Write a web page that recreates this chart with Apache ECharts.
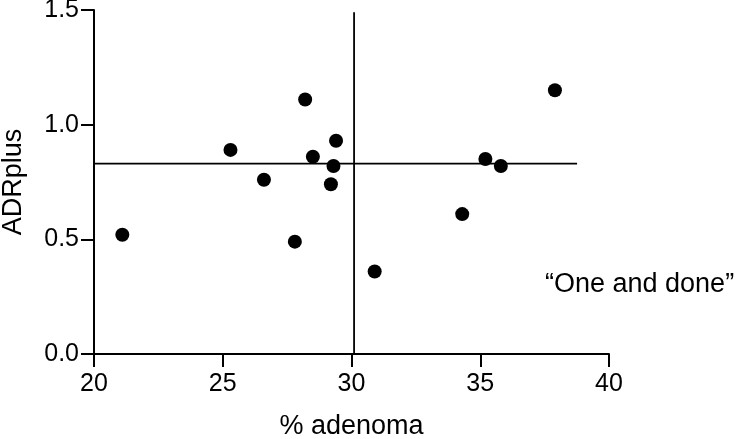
<!DOCTYPE html>
<html>
<head>
<meta charset="utf-8">
<script src="https://cdn.jsdelivr.net/npm/echarts@6/dist/echarts.min.js"></script>
<style>
  html, body { margin: 0; padding: 0; background: #fff; }
  #chart { width: 738px; height: 439px; }
</style>
</head>
<body>
<div id="chart"></div>
<script>
// 数据
const adenomaPct = [21.1, 25.3, 26.6, 27.8, 28.2, 28.5, 29.2, 29.3, 29.4, 30.9, 34.3, 35.2, 35.8, 37.9];
const adrPlus = [0.52, 0.89, 0.76, 0.49, 1.11, 0.86, 0.74, 0.82, 0.93, 0.36, 0.61, 0.85, 0.82, 1.15];
// 参考线
const hLineX = [20, 38.76];
const hLineY = [0.83, 0.83];
const vLineX = [30.1, 30.1];
const vLineY = [0, 1.49];
const xTicks = [20, 25, 30, 35, 40];
const yTicks = [0, 0.5, 1.0, 1.5];

const font = "'Liberation Sans', Arial, Helvetica, sans-serif";
const chart = echarts.init(document.getElementById('chart'));

const option = {
  backgroundColor: '#fff',
  animation: false,
  grid: { left: 94, right: 129, top: 10, bottom: 85, outerBoundsMode: 'none', containLabel: false },
  xAxis: {
    type: 'value',
    min: xTicks[0],
    max: xTicks[xTicks.length - 1],
    interval: 5,
    name: '% adenoma',
    nameLocation: 'middle',
    nameGap: 59,
    nameTextStyle: { color: '#000', fontSize: 27, fontFamily: font },
    axisLine: { show: true, lineStyle: { color: '#000', width: 2 } },
    axisTick: { show: true, length: 13, lineStyle: { color: '#000', width: 2 } },
    axisLabel: { color: '#000', fontSize: 25, fontFamily: font, margin: 18 },
    splitLine: { show: false }
  },
  yAxis: {
    type: 'value',
    min: yTicks[0],
    max: yTicks[yTicks.length - 1],
    interval: 0.5,
    name: 'ADRplus',
    nameLocation: 'middle',
    nameGap: 67,
    nameTextStyle: { color: '#000', fontSize: 27, fontFamily: font },
    axisLine: { show: true, lineStyle: { color: '#000', width: 2 } },
    axisTick: { show: true, length: 13, lineStyle: { color: '#000', width: 2 } },
    axisLabel: {
      color: '#000', fontSize: 25, fontFamily: font, margin: 15,
      formatter: function (v) { return v.toFixed(1); }
    },
    splitLine: { show: false }
  },
  series: [
    {
      type: 'line',
      data: hLineX.map(function (x, i) { return [x, hLineY[i]]; }),
      symbol: 'none',
      lineStyle: { color: '#000', width: 1.8 },
      silent: true
    },
    {
      type: 'line',
      data: vLineX.map(function (x, i) { return [x, vLineY[i]]; }),
      symbol: 'none',
      lineStyle: { color: '#000', width: 1.8 },
      silent: true
    },
    {
      type: 'scatter',
      data: adenomaPct.map(function (x, i) { return [x, adrPlus[i]]; }),
      symbol: 'circle',
      symbolSize: 14,
      itemStyle: { color: '#000', opacity: 1 },
      z: 5
    }
  ],
  graphic: [
    {
      type: 'text',
      left: 545,
      top: 271,
      style: {
        text: '\u201cOne and done\u201d',
        fill: '#000',
        fontSize: 27,
        fontFamily: font
      }
    }
  ]
};

chart.setOption(option);
window.onresize = chart.resize;
</script>
</body>
</html>
